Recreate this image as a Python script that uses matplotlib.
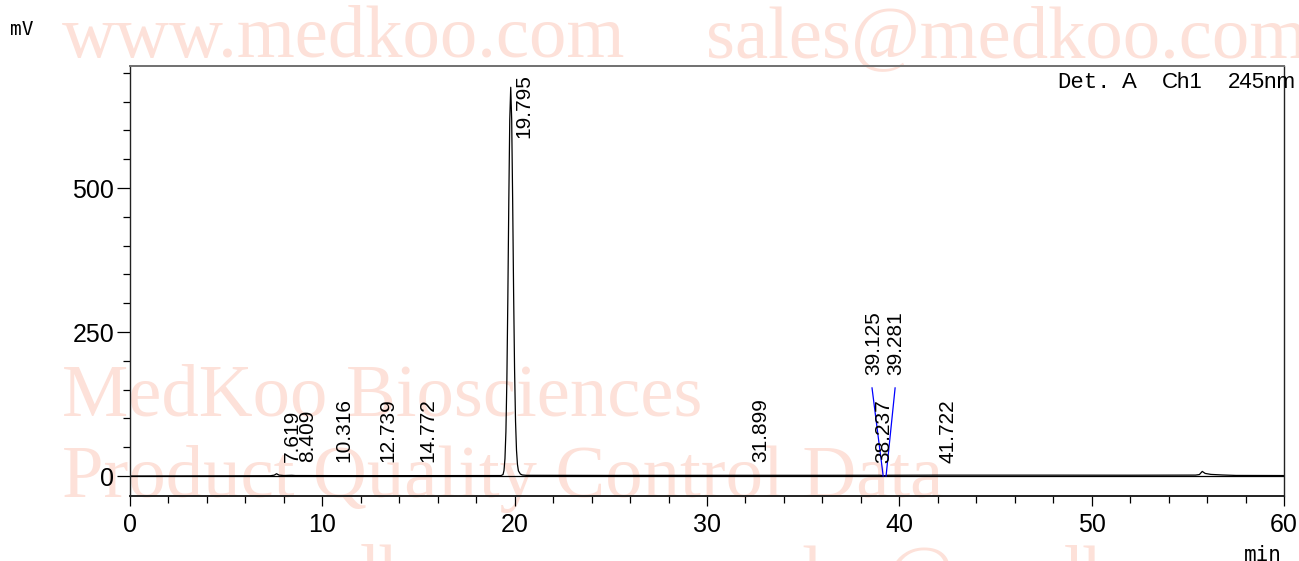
import matplotlib
matplotlib.use("Agg")
import matplotlib.pyplot as plt
from matplotlib import font_manager
from matplotlib.ticker import MultipleLocator

# chromatogram trace (min, mV)
time_min = [0.0, 5.0, 7.3, 7.5, 7.62, 7.75, 8.0, 8.41, 8.6, 12.0, 19.3,
            19.395, 19.445, 19.495, 19.545, 19.595, 19.645, 19.695, 19.745,
            19.795, 19.845, 19.895, 19.945, 19.995, 20.045, 20.095, 20.145,
            20.195, 20.295, 20.395, 20.6, 25.0, 31.9, 36.0, 39.0, 39.2, 39.4,
            42.0, 48.0, 52.0, 55.4, 55.6, 55.75, 55.9, 56.2, 56.8, 57.5, 60.0]
signal_mv = [0.0, 0.3, 0.5, 1.5, 4.0, 1.5, 0.8, 1.2, 0.8, 0.6, 0.8,
             2.6, 9.6, 30, 77, 168, 309, 477, 619,
             675, 619, 480, 318, 185, 95, 45, 20,
             9, 3.5, 1.8, 1.2, 1.0, 1.2, 1.2, 1.3, 0.5, 1.3,
             1.5, 1.5, 1.4, 1.6, 2.5, 8.0, 4.5, 2.8, 1.8, 1.0, 0.8]

# integration marker lines (blue)
marker1_x = [38.58, 39.16]
marker1_y = [153, 0]
marker2_x = [39.78, 39.31]
marker2_y = [153, 0]

# peak labels
peak_rt = [7.619, 8.409, 10.316, 12.739, 14.772, 19.795, 31.899,
           38.237, 39.125, 39.281, 41.722]
label_y = [24, 24, 24, 24, 24, 587, 24, 22, 175, 175, 22]
label_dx = [16, 16, 15, 13, 14, 13, 17, 18, -9, 10, 16]  # pixels

x_ticks = [0, 10, 20, 30, 40, 50, 60]
y_ticks = [0, 250, 500]

names = {f.name for f in font_manager.fontManager.ttflist}
narrow = "Liberation Sans Narrow" if "Liberation Sans Narrow" in names else "Liberation Sans"

W, H = 1299, 561
fig = plt.figure(figsize=(W / 100, H / 100), dpi=100)
ax = fig.add_axes([130 / W, 1 - 496 / H, (1284 - 130) / W, (496 - 66) / H])
ax.set_facecolor("none")


def px(x, y):
    return x / W, 1 - y / H


# watermark
wm = dict(family="Liberation Serif", fontsize=53.7, color="#fde1d9", zorder=-5)
fig.text(*px(62, 57), "www.medkoo.com", **wm)
fig.text(*px(706, 57), "sales@medkoo.com", **wm)
fig.text(*px(62, 415), "MedKoo Biosciences", **wm)
fig.text(*px(62, 497), "Product Quality Control Data", **wm)
fig.text(*px(75, 596), "www.medkoo.com", **wm)
fig.text(*px(740, 596), "sales@medkoo.com", **wm)

ax.plot(time_min, signal_mv, color="black", lw=0.9)
ax.axhline(0, color="black", lw=0.9)
ax.plot(marker1_x, marker1_y, color="blue", lw=0.9)
ax.plot(marker2_x, marker2_y, color="blue", lw=0.9)

for rt, ly, dx in zip(peak_rt, label_y, label_dx):
    ax.annotate(f"{rt:.3f}", xy=(rt, ly), xytext=(dx * 0.72, 0),
                textcoords="offset points", rotation=90, ha="center",
                va="bottom", family="Liberation Sans", fontsize=15)

ax.set_xlim(0, 60)
ax.set_ylim(-34.7, 712)
ax.set_xticks(x_ticks)
ax.set_yticks(y_ticks)
ax.xaxis.set_minor_locator(MultipleLocator(2))
ax.yaxis.set_minor_locator(MultipleLocator(50))
ax.tick_params(axis="x", which="major", length=7, width=0.9, pad=5, labelsize=18)
ax.tick_params(axis="x", which="minor", length=5, width=0.9)
ax.tick_params(axis="y", which="major", length=9.5, width=0.9, pad=2, labelsize=18)
ax.tick_params(axis="y", which="minor", length=5, width=0.9)
for lab in ax.get_xticklabels() + ax.get_yticklabels():
    lab.set_family(narrow)

for side in ["left", "right", "bottom"]:
    ax.spines[side].set_color("#222222")
    ax.spines[side].set_linewidth(1.0)
ax.spines["bottom"].set_linewidth(1.4)
ax.spines["top"].set_color("#707070")
ax.spines["top"].set_linewidth(1.4)

fig.text(*px(10, 35), "mV", family="DejaVu Sans Mono", fontsize=14)
fig.text(*px(1282, 561), "min", family="DejaVu Sans Mono", fontsize=15, ha="right")
fig.text(*px(1057, 88), "Det.", family="Liberation Mono", fontsize=16)
fig.text(*px(1122, 88), "A", family=narrow, fontsize=16)
fig.text(*px(1162, 88), "Ch1", family=narrow, fontsize=16)
fig.text(*px(1228, 88), "245nm", family=narrow, fontsize=16)

fig.savefig("out.png", dpi=100)
